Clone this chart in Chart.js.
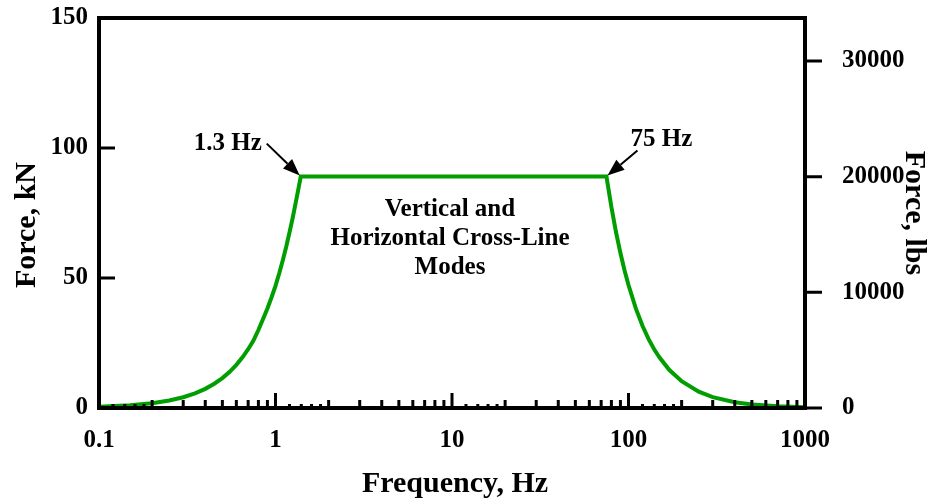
<!DOCTYPE html>
<html><head><meta charset="utf-8">
<script src="https://cdn.jsdelivr.net/npm/chart.js@4/dist/chart.umd.min.js"></script>
<style>html,body{margin:0;padding:0;background:#fff}</style>
</head><body>
<canvas id="c" width="935" height="503"></canvas>
<script>
// ---- data ----
const freqHz = [0.1,0.15,0.2,0.25,0.3,0.35,0.4,0.45,0.5,0.55,0.6,0.65,0.7,0.75,0.8,0.85,0.9,0.95,1.0,1.05,1.1,1.15,1.2,1.25,1.3,1.35,1.39,
                75,80,85,90,95,100,110,120,130,140,150,170,200,250,300,400,500,700,1000];
const forceKN = [0.46,1.04,1.84,2.88,4.15,5.64,7.37,9.33,11.5,13.9,16.6,19.5,22.6,25.9,30.0,34.2,38.3,42.6,47.0,51.8,56.8,62.0,67.5,73.0,78.8,84.5,89.0,
                 89.0,77.3,67.6,59.6,52.9,47.3,38.3,31.6,26.5,22.5,19.4,14.7,10.3,6.3,4.2,2.2,1.37,0.65,0.30];
const xTickLabels = [0.1, 1, 10, 100, 1000];
const yTicksKN = [0, 50, 100, 150];
const yTicksLbs = [0, 10000, 20000, 30000];
const LBS_PER_KN = 224.809;
const cornerLabels = ['1.3 Hz', '75 Hz'];
const cornerFreqs = [1.39, 75];
const centerText = ['Vertical and', 'Horizontal Cross-Line', 'Modes'];
const xTitle = 'Frequency, Hz';
const yTitle = 'Force, kN';
const y2Title = 'Force, lbs';

const FONT = '"Liberation Serif", "Times New Roman", serif';
Chart.defaults.font.family = FONT;
Chart.defaults.font.weight = 'bold';
Chart.defaults.color = '#000';

const framePlugin = {
  id: 'frame',
  afterDraw(chart) {
    const {ctx, chartArea: a, scales} = chart;
    const x = scales.x, y = scales.y, y2 = scales.y2;
    ctx.save();
    ctx.strokeStyle = '#000';
    ctx.fillStyle = '#000';
    ctx.lineWidth = 3;
    ctx.lineCap = 'butt';
    ctx.beginPath();
    // x ticks (inward)
    for (let i = 0; i < xTickLabels.length - 1; i++) {
      const d = xTickLabels[i];
      for (let m = 1; m < 10; m++) {
        const px = x.getPixelForValue(d * m);
        const len = m === 1 ? 15 : 8;
        ctx.moveTo(px, a.bottom); ctx.lineTo(px, a.bottom - len);
      }
      [1.2, 1.4, 1.6, 1.8].forEach(m => {
        const px = x.getPixelForValue(d * m);
        ctx.moveTo(px, a.bottom); ctx.lineTo(px, a.bottom - 4);
      });
    }
    // left ticks (inward)
    yTicksKN.forEach(v => {
      const py = y.getPixelForValue(v);
      ctx.moveTo(a.left, py); ctx.lineTo(a.left + 16, py);
    });
    // right ticks (outward)
    yTicksLbs.forEach(v => {
      const py = y2.getPixelForValue(v);
      ctx.moveTo(a.right, py); ctx.lineTo(a.right + 17, py);
    });
    ctx.stroke();
    ctx.lineWidth = 4;
    ctx.strokeRect(a.left, a.top, a.right - a.left, a.bottom - a.top);

    // axis titles
    ctx.textAlign = 'center';
    ctx.textBaseline = 'alphabetic';
    ctx.font = 'bold 30px ' + FONT;
    ctx.fillText(xTitle, (a.left + a.right) / 2 + 3, 492);
    ctx.save();
    ctx.translate(35, (a.top + a.bottom) / 2 + 12);
    ctx.rotate(-Math.PI / 2);
    ctx.fillText(yTitle, 0, 0);
    ctx.restore();
    ctx.save();
    ctx.translate(906, (a.top + a.bottom) / 2);
    ctx.rotate(Math.PI / 2);
    ctx.fillText(y2Title, 0, 0);
    ctx.restore();

    // corner annotations with arrows
    const offs = [
      {tx: -73, ty: -27, ax: -34, ay: -33, bx: -1, by: -1},
      {tx: 55, ty: -31, ax: 31, ay: -26, bx: 1, by: -1}
    ];
    ctx.font = 'bold 25px ' + FONT;
    cornerFreqs.forEach((f, i) => {
      const idx = freqHz.indexOf(f);
      const cx = x.getPixelForValue(f), cy = y.getPixelForValue(forceKN[idx]);
      const o = offs[i];
      ctx.fillText(cornerLabels[i], cx + o.tx, cy + o.ty);
      const x0 = cx + o.ax, y0 = cy + o.ay, x1 = cx + o.bx, y1 = cy + o.by;
      const ang = Math.atan2(y1 - y0, x1 - x0);
      const hl = 17, hw = 6.5;
      const bxp = x1 - hl * Math.cos(ang), byp = y1 - hl * Math.sin(ang);
      ctx.lineWidth = 2;
      ctx.beginPath(); ctx.moveTo(x0, y0); ctx.lineTo(bxp, byp); ctx.stroke();
      ctx.beginPath();
      ctx.moveTo(x1, y1);
      ctx.lineTo(bxp + hw * Math.sin(ang), byp - hw * Math.cos(ang));
      ctx.lineTo(bxp - hw * Math.sin(ang), byp + hw * Math.cos(ang));
      ctx.closePath(); ctx.fill();
    });

    // centre text
    const mx = x.getPixelForValue(10) - 2;
    const top = y.getPixelForValue(89) + 39;
    centerText.forEach((t, i) => ctx.fillText(t, mx, top + i * 29));
    ctx.restore();
  }
};

const noPad = s => { s.paddingTop = 0; s.paddingBottom = 0; };

new Chart(document.getElementById('c'), {
  type: 'line',
  data: {
    datasets: [{
      data: freqHz.map((f, i) => ({x: f, y: forceKN[i]})),
      borderColor: '#009e00',
      borderWidth: 4,
      pointRadius: 0,
      tension: 0,
      fill: false,
      clip: 4
    }]
  },
  options: {
    responsive: false,
    animation: false,
    devicePixelRatio: 1,
    layout: {padding: {left: 0, right: 0, top: 18, bottom: 0}},
    plugins: {legend: {display: false}, tooltip: {enabled: false}},
    scales: {
      x: {
        type: 'logarithmic', min: 0.1, max: 1000,
        afterBuildTicks: s => { s.ticks = xTickLabels.map(v => ({value: v})); },
        afterFit: s => { s.height = 95; s.paddingLeft = 0; s.paddingRight = 0; },
        grid: {display: false, drawTicks: false},
        border: {display: false},
        ticks: {font: {size: 25, weight: 'bold'}, color: '#000', padding: 18, autoSkip: false, maxRotation: 0,
                callback: v => String(v)},
        title: {display: false}
      },
      y: {
        type: 'linear', position: 'left', min: 0, max: 150,
        afterBuildTicks: s => { s.ticks = yTicksKN.map(v => ({value: v})); },
        afterFit: s => { s.width = 99; noPad(s); },
        grid: {display: false, drawTicks: false},
        border: {display: false},
        ticks: {font: {size: 25, weight: 'bold'}, color: '#000', padding: 11},
        title: {display: false}
      },
      y2: {
        type: 'linear', position: 'right', min: 0, max: 150 * LBS_PER_KN,
        afterBuildTicks: s => { s.ticks = yTicksLbs.map(v => ({value: v})); },
        afterFit: s => { s.width = 130; noPad(s); },
        grid: {display: false, drawTicks: false},
        border: {display: false},
        ticks: {font: {size: 25, weight: 'bold'}, color: '#000', padding: 37, callback: v => String(v)},
        title: {display: false}
      }
    }
  },
  plugins: [framePlugin]
});
</script>
</body></html>
